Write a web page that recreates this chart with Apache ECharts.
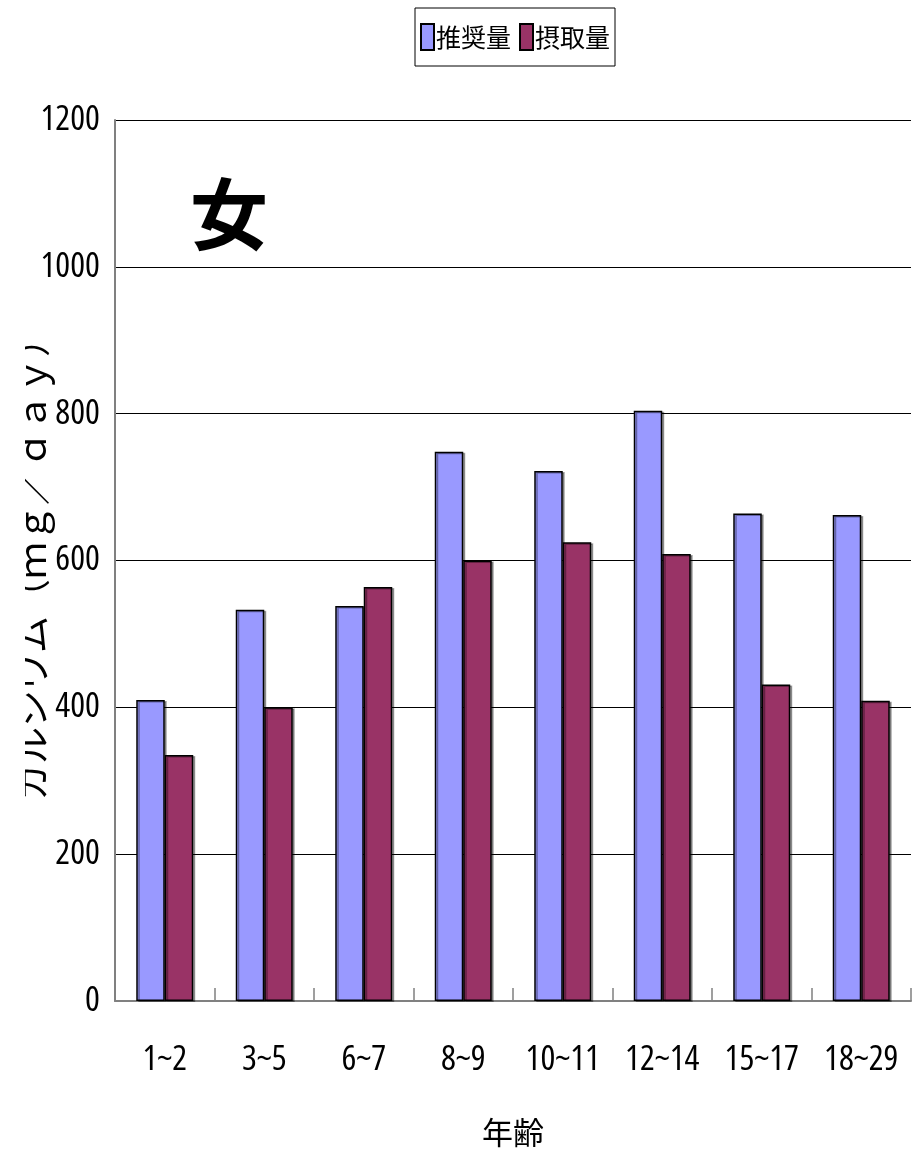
<!DOCTYPE html>
<html>
<head>
<meta charset="utf-8">
<script src="https://cdn.jsdelivr.net/npm/echarts@6/dist/echarts.min.js"></script>
<style>
  html, body { margin: 0; padding: 0; background: #fff; }
  #chart { width: 922px; height: 1154px; }
</style>
</head>
<body>
<div id="chart"></div>
<script>
// Age groups (years)
const categories = ['1~2', '3~5', '6~7', '8~9', '10~11', '12~14', '15~17', '18~29'];
// Recommended calcium intake, women (mg/day)
const recommended = [410, 533, 538, 748, 722, 804, 664, 662];
// Actual calcium intake, women (mg/day)
const intake = [335, 400, 564, 600, 625, 609, 431, 409];
// Value axis ticks
const yTicks = [0, 200, 400, 600, 800, 1000, 1200];

const seriesNames = ['推奨量', '摂取量'];
// Open Sans is a variable font: the "condensed" keyword narrows the digits
const narrowFamily = '"Open Sans", "Liberation Sans", sans-serif';
const cjk = '"Noto Sans CJK JP", "Noto Sans", sans-serif';
const narrowText = { fontFamily: narrowFamily, fontStyle: 'normal', fontWeight: 'condensed', fontSize: 35, color: '#000' };

const chart = echarts.init(document.getElementById('chart'), null, { renderer: 'canvas' });

const barStyle = (color) => ({
  color: color,
  borderColor: '#000',
  borderWidth: 1.5,
  shadowColor: 'rgba(0,0,0,0.35)',
  shadowOffsetX: 2,
  shadowOffsetY: 1,
  shadowBlur: 0
});

chart.setOption({
  animation: false,
  backgroundColor: '#fff',
  grid: { left: 115, right: 11, top: 120, bottom: 153, containLabel: false, outerBoundsMode: 'none' },
  legend: {
    data: seriesNames,
    top: 8,
    left: 415,
    padding: [15, 5, 15, 5],
    itemGap: 8,
    itemWidth: 13,
    itemHeight: 26,
    borderColor: '#000',
    borderWidth: 1,
    icon: 'rect',
    textStyle: { fontFamily: cjk, fontSize: 25, color: '#000', padding: [0, 0, 0, -3] }
  },
  xAxis: {
    type: 'category',
    data: categories,
    name: '年齢',
    nameLocation: 'middle',
    nameGap: 116,
    nameMoveOverlap: false,
    nameTextStyle: { fontFamily: cjk, fontSize: 31, color: '#000' },
    axisLine: { lineStyle: { color: '#808080', width: 2 } },
    axisTick: { show: true, inside: true, length: 13, lineStyle: { color: '#808080', width: 1.5 } },
    axisLabel: Object.assign({ interval: 0, margin: 42 }, narrowText),
    splitLine: { show: false }
  },
  yAxis: {
    type: 'value',
    min: yTicks[0],
    max: yTicks[yTicks.length - 1],
    interval: yTicks[1] - yTicks[0],
    name: 'カルシウム（ｍｇ／ｄａｙ）',
    nameLocation: 'middle',
    nameRotate: 90,
    nameGap: 65,
    nameMoveOverlap: false,
    nameTextStyle: { fontFamily: cjk, fontSize: 37, color: '#000' },
    axisLine: { show: true, lineStyle: { color: '#808080', width: 2 } },
    axisTick: { show: false },
    axisLabel: Object.assign({ margin: 15, formatter: (v) => String(v) }, narrowText),
    splitLine: { show: true, lineStyle: { color: '#000', width: 1 } }
  },
  graphic: [
    {
      type: 'rect',
      left: 0,
      top: 300,
      z: 100,
      shape: { width: 25, height: 520 },
      style: { fill: '#fff' }
    },
    {
      type: 'text',
      left: 190,
      top: 175,
      z: 100,
      style: { text: '女', fontFamily: cjk, fontSize: 78, fontWeight: 'bold', fill: '#000' }
    }
  ],
  series: [
    {
      name: seriesNames[0],
      type: 'bar',
      data: recommended,
      barWidth: 28.5,
      barGap: '0%',
      itemStyle: barStyle('#9999ff')
    },
    {
      name: seriesNames[1],
      type: 'bar',
      data: intake,
      barWidth: 28.5,
      barGap: '0%',
      itemStyle: barStyle('#993366')
    }
  ]
});
</script>
</body>
</html>
